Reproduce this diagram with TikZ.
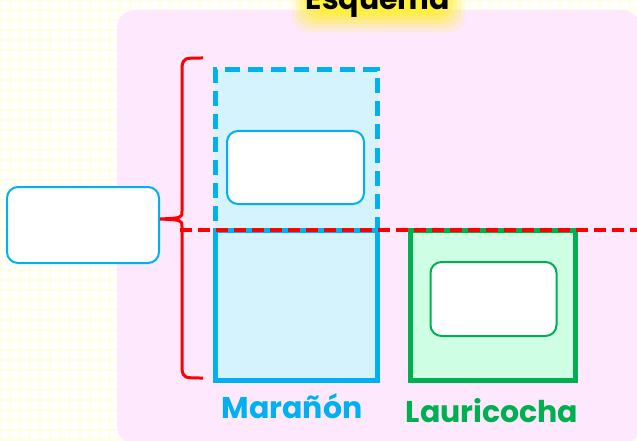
\documentclass[tikz,border=0pt]{standalone}
\usepackage{fontspec}
\setmainfont{Poppins}
\usetikzlibrary{positioning, calc}
\definecolor{skyblue}{RGB}{0,176,240}
\definecolor{skyfill}{RGB}{212,243,253}
\definecolor{leafgreen}{RGB}{0,176,80}
\definecolor{leaffill}{RGB}{206,255,228}
\definecolor{panelpink}{RGB}{253,232,253}
\definecolor{gridyellow}{RGB}{255,255,226}
\definecolor{glowyellow}{RGB}{255,240,50}
\definecolor{bracered}{RGB}{255,0,0}
\tikzset{
  slot/.style={rectangle, draw, fill=white, rounded corners=11pt, line width=2pt, inner sep=0pt},
  strata/.style={rectangle, line width=5pt, inner sep=0pt},
  cuenca/.style={font=\fontsize{30}{32}\selectfont\bfseries},
  bracket/.style={draw=bracered, line width=3pt},
}

\begin{document}
\begin{tikzpicture}[x=1pt, y=-1pt]
  \useasboundingbox (0,0) rectangle (637,441);

  % Background grid and panel
  \fill[white] (0,0) rectangle (637,441);
  \draw[gridyellow, line width=2.7pt] (-1,-1) grid[step=10pt] (637,441);
  \fill[panelpink, rounded corners=18pt] (117,10) rectangle (640,444);

  % Title glow
  \foreach \g/\op in {20/0.15, 16/0.2, 12/0.25, 8/0.35, 4/0.5, 0/0.7}
    \fill[glowyellow, opacity=\op, rounded corners=16pt] (312-\g,-20) rectangle (445+\g,12+\g);
  \node (title) at (378,10) [anchor=base, cuenca, text=black] {Esquema};

  % Left box
  \node (zona) at (83,225) [slot, draw=skyblue, minimum width=152pt, minimum height=76pt] {};

  % Marañón column
  \node (marDash) at (296.5,150) [strata, draw=skyblue, fill=skyfill, dash pattern=on 15pt off 8pt,
                                  minimum width=162.5pt, minimum height=160pt] {};
  \node (marSolid) at (296.5,305) [strata, draw=skyblue, fill=skyfill,
                                   minimum width=162.5pt, minimum height=150pt] {};
  \node (marSlot) at (295.5,167.5) [slot, draw=skyblue, minimum width=137pt, minimum height=73pt] {};

  % Lauricocha column
  \node (lauSolid) at (492.5,305) [strata, draw=leafgreen, fill=leaffill,
                                   minimum width=165pt, minimum height=150pt] {};
  \node (lauSlot) at (493.5,299) [slot, draw=leafgreen, minimum width=126pt, minimum height=74pt] {};

  % Labels
  \node (marLabel) at (292,418) [anchor=base, cuenca, text=skyblue] {Marañón};
  \node (lauLabel) at (492,422) [anchor=base, cuenca, text=leafgreen] {Lauricocha};

  % Cut line
  \coordinate (cutW) at (180,230);
  \coordinate (cutE) at (640,230);
  \draw[bracered, line width=3.5pt, dash pattern=on 12pt off 6pt] (cutW) -- (cutE);

  % Brace
  \coordinate (braceTop) at (203,58);
  \coordinate (braceBot) at (203,378);
  \coordinate (braceTip) at (zona.east |- 0,219);
  \draw[bracket] (braceTop) .. controls (184,58) .. (182,66) -- (182,211)
    .. controls (182,218) .. (braceTip)
    .. controls (182,220) .. (182,227) -- (182,370)
    .. controls (184,378) .. (braceBot);
\end{tikzpicture}
\end{document}
